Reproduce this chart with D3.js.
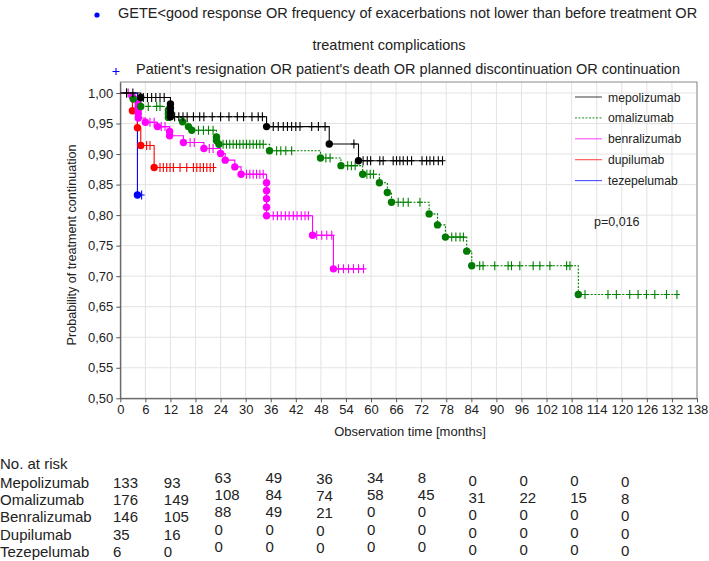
<!DOCTYPE html>
<html>
<head>
<meta charset="utf-8">
<script src="https://cdn.jsdelivr.net/npm/d3@7"></script>
<style>
  body { margin: 0; background: #fff; }
  svg { display: block; font-family: "Liberation Sans", Arial, sans-serif; }
</style>
</head>
<body>
<svg id="chart"></svg>
<script>
// survival steps [time, probability] -- every step gets a dot
const mepEvents = [[4.9, 0.9925], [12, 0.982], [12, 0.975], [12, 0.968], [12, 0.961], [35, 0.945], [50, 0.9165], [57, 0.889]];
const mepCensor = [1.5, 3, 5.5, 6.5, 7.5, 8.5, 9.5, 10.5, 13, 14, 15, 16, 17.5, 19, 20, 22, 24, 26, 28, 29.5, 31.5, 33, 34,
  36.6, 37.8, 39, 40, 41, 42, 43, 45.8, 47.4, 49, 55.9, 58.1, 59.1, 59.9, 62.1, 62.9, 65.3, 66.1, 66.9, 67.7, 68.7, 69.7,
  72.2, 73.3, 74.1, 75, 76.1, 77.1];

const omaEvents = [[3.1, 0.990], [4.9, 0.978], [11.5, 0.972], [11.5, 0.966], [11.5, 0.960], [14.9, 0.953], [16.3, 0.945],
  [17.1, 0.939], [23, 0.928], [23, 0.922], [23.6, 0.916], [35.7, 0.9055], [47.9, 0.8935], [52.8, 0.881], [58, 0.867],
  [62, 0.853], [63.9, 0.837], [64.9, 0.821], [73.9, 0.802], [75.9, 0.784], [77.8, 0.764], [82.9, 0.741], [84.1, 0.717],
  [109.6, 0.670]];
const omaCensor = [1.5, 6.7, 8.7, 9.5, 18.7, 19.9, 21.1, 22.2, 24.6, 25.4, 26.2, 27, 27.8, 28.6, 29.4, 30.2, 31, 31.8, 32.6,
  33.4, 34.2, 37.4, 38.4, 39.6, 41, 49.2, 50.2, 54.4, 55.3, 56.2, 59, 59.8, 60.6, 66.5, 67.7, 68.9, 71.7, 79.3, 80.3, 81.3,
  82.1, 86, 86.8, 89.6, 92.8, 93.6, 95.6, 98.8, 100.4, 102.8, 106.8, 107.6, 111.2, 116.7, 118.7, 121.9, 123.9, 125.9,
  127.9, 130.7, 133.2];

const benEvents = [[2.9, 0.994], [4.3, 0.983], [4.3, 0.978], [4.3, 0.972], [4.3, 0.966], [4.3, 0.959], [6, 0.952],
  [8.9, 0.945], [11.8, 0.937], [11.8, 0.930], [15.1, 0.919], [20, 0.909], [24, 0.901], [25.1, 0.890], [27.4, 0.879],
  [28.9, 0.867], [35, 0.853], [35, 0.840], [35, 0.827], [35, 0.813], [35, 0.799], [46, 0.767], [51, 0.712]];
const benCensor = [1.9, 7.1, 8.1, 9.8, 10.7, 16.7, 17.7, 21.3, 22.2, 30.2, 31, 31.8, 32.6, 33.4, 34.2, 36.6, 37.6, 38.5,
  39.5, 40.4, 41.4, 42.3, 43.3, 44.2, 45, 47, 48.2, 49.4, 50.6, 52.2, 53.4, 54.6, 55.8, 57, 58.2];

const dupEvents = [[2.9, 0.971], [4.1, 0.943], [4.9, 0.914], [8.1, 0.878]];
const dupCensor = [6.3, 7.1, 9.5, 10.3, 11.1, 11.9, 12.7, 14.3, 15.9, 17.5, 18.3, 19.1, 19.9, 20.7, 21.5, 22.3];

const tezEvents = [[4.1, 0.833]];
const tezCensor = [5.1];

const seriesNames = ["mepolizumab", "omalizumab", "benralizumab", "dupilumab", "tezepelumab"];

// number at risk table
const riskTimes = [0, 12, 24, 36, 48, 60, 72, 84, 96, 108, 120];
const riskRows = ["Mepolizumab", "Omalizumab", "Benralizumab", "Dupilumab", "Tezepelumab"];
const riskMep = [133, 93, 63, 49, 36, 34, 8, 0, 0, 0, 0];
const riskOma = [176, 149, 108, 84, 74, 58, 45, 31, 22, 15, 8];
const riskBen = [146, 105, 88, 49, 21, 0, 0, 0, 0, 0, 0];
const riskDup = [35, 16, 0, 0, 0, 0, 0, 0, 0, 0, 0];
const riskTez = [6, 0, 0, 0, 0, 0, 0, 0, 0, 0, 0];

const xTicks = d3.range(0, 139, 6);
const yTicks = [0.5, 0.55, 0.6, 0.65, 0.7, 0.75, 0.8, 0.85, 0.9, 0.95, 1.0];

const width = 709;
const height = 561;
const svg = d3.select("#chart").attr("width", width).attr("height", height);

const x = d3.scaleLinear().domain([0, 138]).range([120.3, 697]);
const y = d3.scaleLinear().domain([0.5, 1.018]).range([398.3, 82]);

const comma = d3.formatLocale({ decimal: ",", thousands: ".", grouping: [3], currency: ["", ""] }).format(".2f");

// grid
svg.append("g")
  .selectAll("line")
  .data(xTicks.slice(1))
  .enter()
  .append("line")
  .attr("x1", (d) => x(d)).attr("x2", (d) => x(d))
  .attr("y1", y.range()[1]).attr("y2", y.range()[0])
  .attr("stroke", "#e3e3e3");
svg.append("g")
  .selectAll("line")
  .data(yTicks.slice(1))
  .enter()
  .append("line")
  .attr("x1", x.range()[0]).attr("x2", x.range()[1])
  .attr("y1", (d) => y(d)).attr("y2", (d) => y(d))
  .attr("stroke", "#e3e3e3");

// frame
svg.append("rect")
  .attr("x", x.range()[0]).attr("y", y.range()[1])
  .attr("width", x.range()[1] - x.range()[0])
  .attr("height", y.range()[0] - y.range()[1])
  .attr("fill", "none").attr("stroke", "#8a8a8a");

const xAxis = svg.append("g")
  .attr("transform", "translate(0," + y.range()[0] + ")")
  .call(d3.axisBottom(x).tickValues(xTicks).tickSize(4).tickSizeOuter(0).tickPadding(2));
const yAxis = svg.append("g")
  .attr("transform", "translate(" + x.range()[0] + ",0)")
  .call(d3.axisLeft(y).tickValues(yTicks).tickFormat(comma).tickSize(4).tickSizeOuter(0).tickPadding(3));
[xAxis, yAxis].forEach((g) => {
  g.select(".domain").attr("stroke", "#555");
  g.selectAll(".tick line").attr("stroke", "#555");
  g.selectAll("text").attr("font-size", 13).attr("fill", "#222").style("font-family", "Liberation Sans, Arial, sans-serif");
});

svg.append("text")
  .attr("x", 410).attr("y", 436)
  .attr("text-anchor", "middle").attr("font-size", 13).attr("fill", "#222")
  .text("Observation time [months]");
svg.append("text")
  .attr("transform", "translate(76,245) rotate(-90)")
  .attr("text-anchor", "middle").attr("font-size", 12.6).attr("fill", "#222")
  .text("Probability of treatment continuation");

// curves
const series = [
  { name: seriesNames[0], events: mepEvents, censor: mepCensor, color: "#000000", dot: "#000000", dash: null },
  { name: seriesNames[1], events: omaEvents, censor: omaCensor, color: "#008000", dot: "#007a00", dash: "2,1.5" },
  { name: seriesNames[2], events: benEvents, censor: benCensor, color: "#ff00ff", dot: "#ff00ff", dash: null },
  { name: seriesNames[3], events: dupEvents, censor: dupCensor, color: "#ff0000", dot: "#ff0000", dash: null },
  { name: seriesNames[4], events: tezEvents, censor: tezCensor, color: "#0000ff", dot: "#0000ff", dash: null },
];

const line = d3.line().x((d) => x(d[0])).y((d) => y(d[1])).curve(d3.curveStepAfter);

function survAt(events, t) {
  let s = 1;
  events.forEach((e) => { if (e[0] <= t) s = e[1]; });
  return s;
}

// draw in reverse so mepolizumab sits on top
series.slice().reverse().forEach((s) => {
  const end = Math.max(d3.max(s.censor), d3.max(s.events, (d) => d[0]));
  const pts = [[0, 1]].concat(s.events).concat([[end, s.events[s.events.length - 1][1]]]);
  const g = svg.append("g");
  g.append("path")
    .attr("d", line(pts))
    .attr("fill", "none")
    .attr("stroke", s.color)
    .attr("stroke-width", 1.1)
    .attr("stroke-dasharray", s.dash);
  g.selectAll("path.cens")
    .data(s.censor)
    .enter()
    .append("path")
    .attr("class", "cens")
    .attr("d", (d) => {
      const cx = x(d), cy = y(survAt(s.events, d));
      return "M" + cx + "," + (cy - 4.5) + "V" + (cy + 4.5) + "M" + (cx - 3) + "," + cy + "H" + (cx + 3);
    })
    .attr("stroke", s.color)
    .attr("stroke-width", 1.1);
  g.selectAll("circle")
    .data(s.events)
    .enter()
    .append("circle")
    .attr("cx", (d) => x(d[0]))
    .attr("cy", (d) => y(d[1]))
    .attr("r", 3.7)
    .attr("fill", s.dot);
});

// right legend
const legend = svg.append("g");
series.forEach((s, i) => {
  const ly = 97 + i * 20.9;
  legend.append("line")
    .attr("x1", 575).attr("x2", 602).attr("y1", ly).attr("y2", ly)
    .attr("stroke", s.color).attr("stroke-width", 1.1).attr("stroke-opacity", 0.7)
    .attr("stroke-dasharray", s.dash);
  legend.append("text")
    .attr("x", 608).attr("y", ly + 4.5)
    .attr("font-size", 12.2).attr("fill", "#222")
    .text(s.name);
});
svg.append("text")
  .attr("x", 594).attr("y", 226)
  .attr("font-size", 12.5).attr("fill", "#222")
  .text("p=0,016");

// top key
svg.append("circle").attr("cx", 97).attr("cy", 15).attr("r", 2.6).attr("fill", "#0000ff");
svg.append("text")
  .attr("x", 118).attr("y", 18)
  .attr("font-size", 14.5).attr("fill", "#222")
  .text("GETE<good response OR frequency of exacerbations not lower than before treatment OR");
svg.append("text")
  .attr("x", 389).attr("y", 50)
  .attr("text-anchor", "middle")
  .attr("font-size", 14.5).attr("fill", "#222")
  .text("treatment complications");
svg.append("path")
  .attr("d", "M116,68V75M112.5,71.5H119.5")
  .attr("stroke", "#0000ff").attr("stroke-width", 1.1);
svg.append("text")
  .attr("x", 136).attr("y", 74)
  .attr("font-size", 14.5).attr("fill", "#222")
  .text("Patient's resignation OR patient's death OR planned discontinuation OR continuation");

// number at risk
const riskValues = [riskMep, riskOma, riskBen, riskDup, riskTez];
const colX = d3.scaleLinear().domain([0, 120]).range([113, 621]);
const colDy = [0, 0, -5, -5, -4, -5, -5, -2, -2, -2, -1];
const rowY = (i) => 483 + i * 17.2;
svg.append("text")
  .attr("x", 0).attr("y", 469)
  .attr("font-size", 15).attr("fill", "#222")
  .text("No. at risk");
riskRows.forEach((name, i) => {
  svg.append("text")
    .attr("x", 0).attr("y", rowY(i) + 5)
    .attr("font-size", 15).attr("fill", "#222")
    .text(name);
  svg.append("g")
    .selectAll("text")
    .data(riskValues[i])
    .enter()
    .append("text")
    .attr("x", (d, j) => colX(riskTimes[j]))
    .attr("y", (d, j) => rowY(i) + 5 + colDy[j])
    .attr("font-size", 15).attr("fill", "#222")
    .text((d) => d);
});
</script>
</body>
</html>
